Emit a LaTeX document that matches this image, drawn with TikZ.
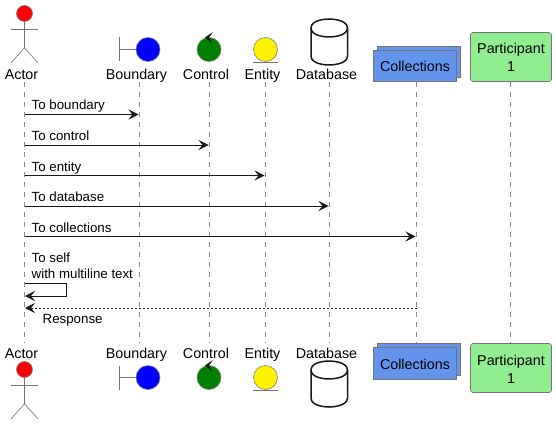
\documentclass[tikz,border=0pt]{standalone}
\usepackage{fontspec}
\setmainfont{Liberation Sans}
\usetikzlibrary{arrows.meta}
\definecolor{ink}{HTML}{181818}
\definecolor{cornflower}{HTML}{6495ED}
\definecolor{lightgreen}{HTML}{90EE90}
\definecolor{greenfill}{HTML}{008000}
\tikzset{
  x=1pt,y=-1pt,
  head/.style={font=\fontsize{14.3}{16}\selectfont,inner sep=0pt,text=black,anchor=base},
  msglabel/.style={font=\fontsize{13.3}{16}\selectfont,inner sep=0pt,anchor=base west,text=black},
  lifeline/.style={draw=ink!50,line width=0.6pt,dash pattern=on 5pt off 5pt},
  msg/.style={draw=ink,line width=1pt,-{Stealth[length=10pt,width=10pt,inset=4pt]}},
  reply/.style={msg,dash pattern=on 2pt off 2pt},
  figline/.style={draw=ink!60,line width=0.6pt},
  disc/.style={draw=ink!55,line width=0.6pt,circle,minimum size=24pt,inner sep=0pt},
  dbline/.style={draw=ink,line width=1.5pt,fill=white},
  collbox/.style={draw=ink!60,line width=0.6pt,fill=cornflower},
  partbox/.style={draw=ink!60,line width=0.6pt,fill=lightgreen,rounded corners=2.5pt,minimum width=81pt,minimum height=49pt,inner sep=0pt},
  parttext/.style={inner sep=0pt,align=center,font=\fontsize{14.3}{18}\selectfont,text=black,anchor=base},
}
\newcommand{\stickman}[2]{%
  \node[disc,fill=red,minimum size=16pt] (#2head) at (24.5,#1) {};
  \draw[figline] (#2head.south) -- ++(0,26) coordinate (#2hip);
  \draw[figline] (11,#1+15.5) -- (38,#1+15.5);
  \draw[figline] (11,#1+49.5) -- (#2hip) -- (38,#1+49.5);
}
\newcommand{\boundaryfig}[2]{%
  \node[disc,fill=blue] (#2disc) at (148,#1) {};
  \draw[figline] (119.5,#1-12) -- (119.5,#1+12);
  \draw[figline] (119.5,#1) -- (#2disc.west);
}
\newcommand{\controlfig}[2]{%
  \node[disc,fill=greenfill] (#2disc) at (209,#1) {};
  \fill[ink] (205,#1-12) -- (213,#1-17.5) -- (209,#1-12) -- (212.5,#1-6) -- cycle;
}
\newcommand{\entityfig}[2]{%
  \node[disc,fill=yellow] (#2disc) at (265.5,#1) {};
  \draw[figline] (253,#1+13) -- (277.5,#1+13);
}
\newcommand{\dbfig}[1]{%
  \draw[dbline] (311,#1+9) .. controls (311,#1) and (329,#1) .. (329,#1)
     .. controls (329,#1) and (347.5,#1) .. (347.5,#1+9)
     -- (347.5,#1+37) .. controls (347.5,#1+46) and (329,#1+46) .. (329,#1+46)
     .. controls (329,#1+46) and (311,#1+46) .. (311,#1+37) -- cycle;
  \draw[dbline,fill=none] (311,#1+9) .. controls (311,#1+18) and (329,#1+18) .. (329,#1+18)
     .. controls (329,#1+18) and (347.5,#1+18) .. (347.5,#1+9);
}
\begin{document}
\begin{tikzpicture}
\useasboundingbox[fill=white] (0,0) rectangle (556,425);
% lifeline ends
\coordinate (atop) at (24.5,82);   \coordinate (abot) at (24.5,343);
\coordinate (btop) at (139.5,82);  \coordinate (bbot) at (139.5,343);
\coordinate (ctop) at (209.5,82);  \coordinate (cbot) at (209.5,343);
\coordinate (etop) at (265.5,82);  \coordinate (ebot) at (265.5,343);
\coordinate (dtop) at (329.5,82);  \coordinate (dbot) at (329.5,343);
\coordinate (ltop) at (416.5,82);  \coordinate (lbot) at (416.5,343);
\coordinate (ptop) at (510.5,82);  \coordinate (pbot) at (510.5,343);
\foreach \n in {a,b,c,e,d,l,p} \draw[lifeline] (\n top) -- (\n bot);
% top heads
\stickman{13.5}{t}
\boundaryfig{49.5}{tb}
\controlfig{49.5}{tc}
\entityfig{49.5}{te}
\dbfig{19}
\node[head] (tal) at (21.5,80) {Actor};
\node[head] (tbl) at (136.5,80) {Boundary};
\node[head] (tcl) at (206,80) {Control};
\node[head] (tel) at (262.5,80) {Entity};
\node[head] (tdl) at (326.5,80) {Database};
\draw[collbox] (377.5,46.5) rectangle (460.5,77.5);
\draw[collbox] (373.5,50.5) rectangle (456.5,81.5);
\node[head] (tl) at (415,71.5) {Collections};
\node[partbox] (tpb) at (511,57) {};
\node[parttext] (tp) at (511,54) {Participant};
\node[parttext] (tp1) at (511,72) {1};
% bottom heads
\stickman{369.5}{u}
\boundaryfig{377.5}{ub}
\controlfig{377.5}{uc}
\entityfig{377.5}{ue}
\dbfig{361}
\node[head] (bal) at (21.5,358) {Actor};
\node[head] (bbl) at (136.5,358) {Boundary};
\node[head] (bcl) at (206,358) {Control};
\node[head] (bel) at (262.5,358) {Entity};
\node[head] (bdl) at (326.5,358) {Database};
\draw[collbox] (377.5,343.5) rectangle (460.5,375.5);
\draw[collbox] (373.5,347.5) rectangle (456.5,379.5);
\node[head] (bl) at (415,369) {Collections};
\node[partbox] (bpb) at (511,368) {};
\node[parttext] (bp) at (511,365) {Participant};
\node[parttext] (bp1) at (511,383) {1};
% message anchors
\coordinate (m1a) at (24.5,114.5); \coordinate (m1b) at (138.5,114.5);
\coordinate (m2a) at (24.5,145);   \coordinate (m2b) at (208.5,145);
\coordinate (m3a) at (24.5,175.5); \coordinate (m3b) at (264.5,175.5);
\coordinate (m4a) at (24.5,206);   \coordinate (m4b) at (328.5,206);
\coordinate (m5a) at (24.5,236.5); \coordinate (m5b) at (415.5,236.5);
\coordinate (s1) at (24.5,283.5);  \coordinate (s2) at (66.5,283.5);
\coordinate (s3) at (66.5,296);    \coordinate (s4) at (25,296);
\coordinate (r1) at (416.5,308);   \coordinate (r2) at (25,308);
\draw[msg] (m1a) -- (m1b);
\draw[msg] (m2a) -- (m2b);
\draw[msg] (m3a) -- (m3b);
\draw[msg] (m4a) -- (m4b);
\draw[msg] (m5a) -- (m5b);
\draw[msg] (s1) -- (s2) -- (s3) -- (s4);
\draw[reply] (r1) -- (r2);
\node[msglabel] (t1) at (31.5,110) {To boundary};
\node[msglabel] (t2) at (31.5,140.5) {To control};
\node[msglabel] (t3) at (31.5,171) {To entity};
\node[msglabel] (t4) at (31.5,201.5) {To database};
\node[msglabel] (t5) at (31.5,232) {To collections};
\node[msglabel] (t6) at (31.5,262) {To self};
\node[msglabel] (t7) at (31.5,278) {with multiline text};
\node[msglabel] (t8) at (42.5,323) {Response};
\end{tikzpicture}
\end{document}
